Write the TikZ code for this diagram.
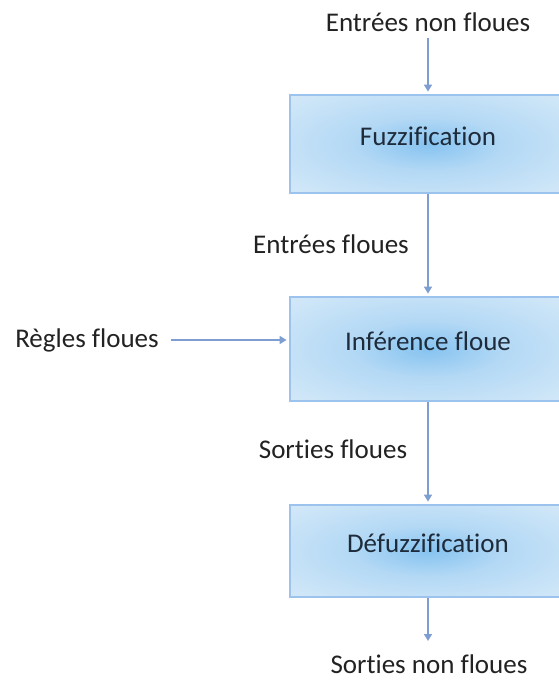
\documentclass[tikz,border=0pt]{standalone}
\usepackage{fontspec}
\setmainfont{Carlito}[Ligatures=NoCommon]
\usetikzlibrary{arrows.meta}
\definecolor{boxedge}{HTML}{9CC3EE}
\definecolor{boxin}{HTML}{86C3F0}
\definecolor{boxmid}{HTML}{B4D9F5}
\definecolor{boxout}{HTML}{DDEDF9}
\definecolor{arrowc}{HTML}{7E9ED2}
\definecolor{boxtext}{HTML}{1E2B3A}
\definecolor{labtext}{HTML}{222222}
\pgfdeclareradialshading{boxshade}{\pgfpoint{0bp}{0bp}}{color(0bp)=(boxin); color(14bp)=(boxmid); color(42bp)=(boxout); color(50bp)=(boxout)}
\tikzset{
  x=1pt, y=-1pt,
  procbox/.style={draw=boxedge, line width=2.8pt, shading=boxshade,
    minimum width=276pt, inner sep=0pt},
  boxlab/.style={text=boxtext, font=\fontsize{27}{32}\selectfont, inner sep=0pt, yshift=8pt},
  lab/.style={text=labtext, font=\fontsize{27}{32}\selectfont, inner sep=0pt},
  flow/.style={draw=arrowc, line width=1.6pt, -{Triangle[width=8pt,length=7pt]}}
}
\begin{document}
\begin{tikzpicture}
\useasboundingbox (0,0) rectangle (559,680);
\node[lab] (in) at (428,22) {Entrées non floues};
\node[procbox, minimum height=98pt, label={[boxlab]center:Fuzzification}] (b1) at (428,144) {};
\node[procbox, minimum height=104pt, label={[boxlab]center:Inférence floue}] (b2) at (428,349) {};
\node[procbox, minimum height=92pt, label={[boxlab]center:Défuzzification}] (b3) at (428,551) {};
\node[lab] (l1) at (331,244) {Entrées floues};
\node[lab] (l2) at (333,449) {Sorties floues};
\node[lab] (rules) at (87,340) {Règles floues};
\node[lab] (out) at (429,664) {Sorties non floues};
\coordinate (outtop) at (428,641);
\draw[flow, shorten <=6pt, shorten >=2pt] (in) -- (b1);
\draw[flow, shorten >=2pt] (b1) -- (b2);
\draw[flow, shorten >=2pt] (b2) -- (b3);
\draw[flow] (b3) -- (outtop);
\draw[flow, shorten <=12pt, shorten >=2pt] (rules.east) -- (rules.east -| b2.west);
\end{tikzpicture}
\end{document}
